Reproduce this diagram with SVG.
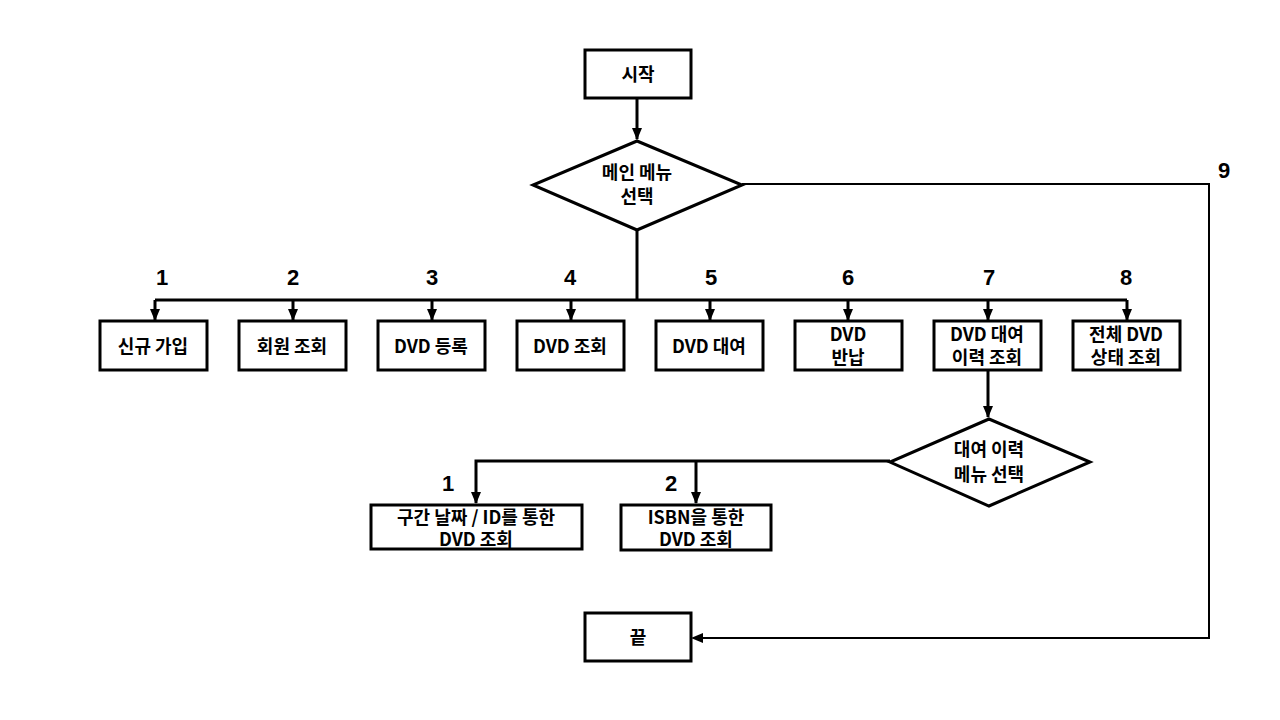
<svg xmlns="http://www.w3.org/2000/svg" width="1280" height="720" viewBox="0 0 1280 720">
<defs>
<marker id="ah" markerUnits="userSpaceOnUse" markerWidth="12" markerHeight="12" viewBox="0 0 12 12" refX="11" refY="6" orient="auto">
<path d="M0,1 L12,6 L0,11 Z" fill="#000"/>
</marker>
<style>
.box{fill:#fff;stroke:#000;stroke-width:3}
.t{font-family:"Malgun Gothic","Noto Sans CJK KR",sans-serif;font-weight:bold;font-size:18px;text-anchor:middle;fill:#000}
.n{font-family:"Liberation Sans","Noto Sans CJK KR",sans-serif;font-weight:bold;font-size:22px;text-anchor:middle;fill:#000}
.c{fill:none;stroke:#000;stroke-width:3}
.thin{fill:none;stroke:#000;stroke-width:2}
</style>
</defs>
<rect width="1280" height="720" fill="#fff"/>
<g id="connectors">
<path class="c" d="M637,98 V139" marker-end="url(#ah)"/>
<path class="c" d="M637,230 V300"/>
<path class="c" d="M155,300 H1127"/>
<path class="c" d="M155,300 V320" marker-end="url(#ah)"/>
<path class="c" d="M293,300 V320" marker-end="url(#ah)"/>
<path class="c" d="M432,300 V320" marker-end="url(#ah)"/>
<path class="c" d="M571,300 V320" marker-end="url(#ah)"/>
<path class="c" d="M710,300 V320" marker-end="url(#ah)"/>
<path class="c" d="M848,300 V320" marker-end="url(#ah)"/>
<path class="c" d="M988,300 V320" marker-end="url(#ah)"/>
<path class="c" d="M1127,300 V320" marker-end="url(#ah)"/>
<path class="c" d="M988,370 V417" marker-end="url(#ah)"/>
<path class="c" d="M890,461 H476 V503" marker-end="url(#ah)"/>
<path class="c" d="M696,461 V503" marker-end="url(#ah)"/>
<path class="thin" d="M742,184 H1209 V638 H701"/>
<path d="M691,638 L703,633 L703,643 Z" fill="#000"/>
</g>
<g id="start"><rect class="box" x="585" y="50" width="106" height="48"/><text class="t" x="638" y="81">시작</text></g>
<g id="main-menu"><polygon class="box" points="637,141 742,185 637,230 533,185"/><text class="t" x="637" y="179">메인 메뉴<tspan x="637" dy="24">선택</tspan></text></g>
<g id="labels">
<text class="n" x="162" y="285">1</text>
<text class="n" x="293" y="285">2</text>
<text class="n" x="432" y="285">3</text>
<text class="n" x="570" y="285">4</text>
<text class="n" x="711" y="285">5</text>
<text class="n" x="848" y="285">6</text>
<text class="n" x="989" y="285">7</text>
<text class="n" x="1126" y="285">8</text>
<text class="n" x="1224" y="178">9</text>
<text class="n" x="448" y="491">1</text>
<text class="n" x="671" y="491">2</text>
</g>
<g id="n1"><rect class="box" x="100" y="321" width="107" height="49"/><text class="t" x="153" y="353">신규 가입</text></g>
<g id="n2"><rect class="box" x="239" y="321" width="107" height="49"/><text class="t" x="292" y="353">회원 조회</text></g>
<g id="n3"><rect class="box" x="378" y="321" width="107" height="49"/><text class="t" x="431" y="353">DVD 등록</text></g>
<g id="n4"><rect class="box" x="517" y="321" width="107" height="49"/><text class="t" x="570" y="353">DVD 조회</text></g>
<g id="n5"><rect class="box" x="656" y="321" width="107" height="49"/><text class="t" x="709" y="353">DVD 대여</text></g>
<g id="n6"><rect class="box" x="795" y="321" width="107" height="49"/><text class="t" x="848" y="341">DVD<tspan x="848" dy="23">반납</tspan></text></g>
<g id="n7"><rect class="box" x="934" y="321" width="107" height="49"/><text class="t" x="987" y="341">DVD 대여<tspan x="987" dy="23">이력 조회</tspan></text></g>
<g id="n8"><rect class="box" x="1073" y="321" width="107" height="49"/><text class="t" x="1126" y="341">전체 DVD<tspan x="1126" dy="23">상태 조회</tspan></text></g>
<g id="rent-menu"><polygon class="box" points="989,419 1090,462 989,506 890,462"/><text class="t" x="989" y="456">대여 이력<tspan x="989" dy="25">메뉴 선택</tspan></text></g>
<g id="s1"><rect class="box" x="371" y="505" width="211" height="44"/><text class="t" x="476" y="524">구간 날짜 / ID를 통한<tspan x="476" dy="22">DVD 조회</tspan></text></g>
<g id="s2"><rect class="box" x="621" y="505" width="150" height="45"/><text class="t" x="696" y="524">ISBN을 통한<tspan x="696" dy="22">DVD 조회</tspan></text></g>
<g id="end"><rect class="box" x="585" y="613" width="106" height="48"/><text class="t" x="638" y="644">끝</text></g>
</svg>
